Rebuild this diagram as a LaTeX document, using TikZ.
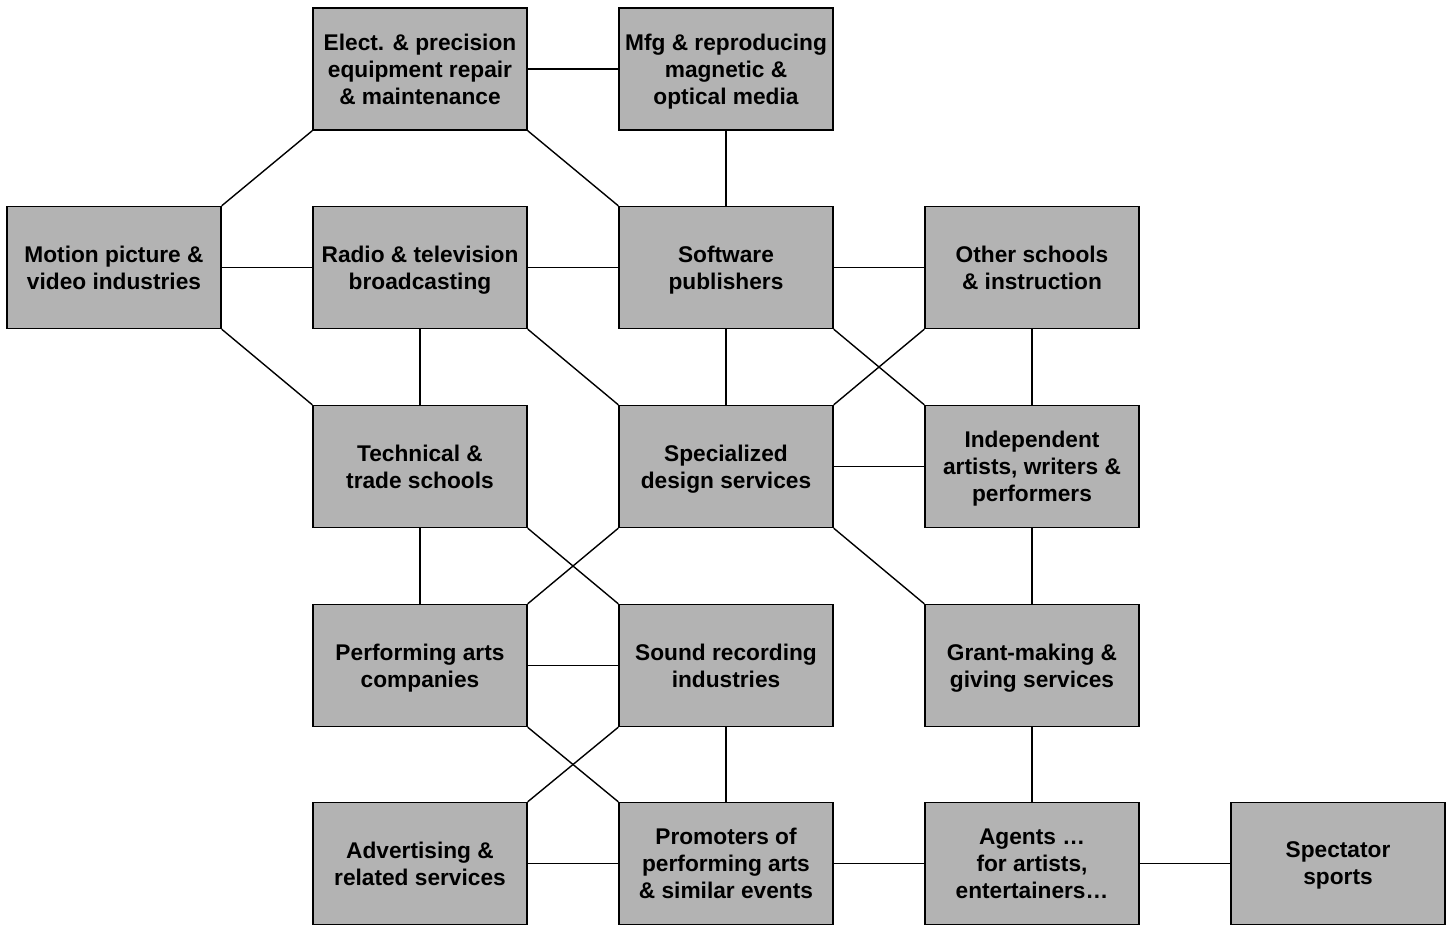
\documentclass[tikz,border=0pt]{standalone}
\usepackage{fontspec}
\setmainfont{Liberation Sans}
\definecolor{boxgray}{HTML}{B3B3B3}
\begin{document}
\begin{tikzpicture}[x=1pt,y=-1pt,
  box/.style={draw=black, fill=boxgray, line width=1.4pt, minimum width=214pt,
    minimum height=122pt, inner sep=0pt, align=center, text depth=0pt,
    font=\fontsize{22.7}{27}\selectfont\bfseries},
  link/.style={draw=black, line width=1.4pt}]
\useasboundingbox (0,0) rectangle (1452,926);
% grid of boxes: columns at x = 114, 420, 726, 1032, 1338
\node[box] (elect) at (420,69) {Elect. \& precision\\equipment repair\\\& maintenance};
\node[box] (mfg) at (726,69) {Mfg \& reproducing\\magnetic \&\\optical media};
\node[box] (motion) at (114,267.5) {Motion picture \&\\video industries};
\node[box] (radio) at (420,267.5) {Radio \& television\\broadcasting};
\node[box] (soft) at (726,267.5) {Software\\publishers};
\node[box] (other) at (1032,267.5) {Other schools\\\& instruction};
\node[box] (tech) at (420,466.5) {Technical \&\\trade schools};
\node[box] (design) at (726,466.5) {Specialized\\design services};
\node[box] (indep) at (1032,466.5) {Independent\\artists, writers \&\\performers};
\node[box] (perf) at (420,665.5) {Performing arts\\companies};
\node[box] (sound) at (726,665.5) {Sound recording\\industries};
\node[box] (grant) at (1032,665.5) {Grant-making \&\\giving services};
\node[box] (adv) at (420,863.5) {Advertising \&\\related services};
\node[box] (promo) at (726,863.5) {Promoters of\\performing arts\\\& similar events};
\node[box] (agents) at (1032,863.5) {Agents …\\for artists,\\entertainers…};
\node[box] (spect) at (1338,863.5) {Spectator\\sports};
% horizontal and vertical links
\draw[link] (elect) -- (mfg);
\draw[link] (mfg) -- (soft);
\draw[link] (motion) -- (radio);
\draw[link] (radio) -- (soft);
\draw[link] (soft) -- (other);
\draw[link] (radio) -- (tech);
\draw[link] (soft) -- (design);
\draw[link] (other) -- (indep);
\draw[link] (design) -- (indep);
\draw[link] (tech) -- (perf);
\draw[link] (indep) -- (grant);
\draw[link] (perf) -- (sound);
\draw[link] (sound) -- (promo);
\draw[link] (grant) -- (agents);
\draw[link] (adv) -- (promo);
\draw[link] (promo) -- (agents);
\draw[link] (agents) -- (spect);
% diagonal links, corner to corner
\draw[link] (elect.south west) -- (motion.north east);
\draw[link] (elect.south east) -- (soft.north west);
\draw[link] (motion.south east) -- (tech.north west);
\draw[link] (radio.south east) -- (design.north west);
\draw[link] (soft.south east) -- (indep.north west);
\draw[link] (other.south west) -- (design.north east);
\draw[link] (tech.south east) -- (sound.north west);
\draw[link] (design.south west) -- (perf.north east);
\draw[link] (design.south east) -- (grant.north west);
\draw[link] (perf.south east) -- (promo.north west);
\draw[link] (sound.south west) -- (adv.north east);
\end{tikzpicture}
\end{document}
